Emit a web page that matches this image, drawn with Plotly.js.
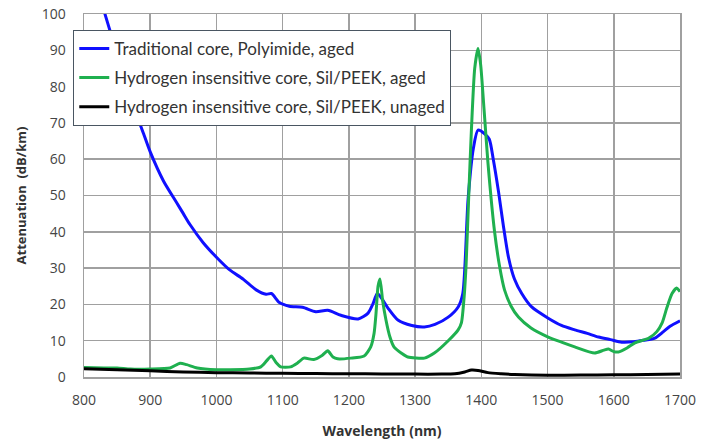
<!DOCTYPE html>
<html>
<head>
<meta charset="utf-8">
<script src="https://cdn.plot.ly/plotly-3.0.1.min.js"></script>
<style>html,body{margin:0;padding:0;background:#fff;}#chart{width:711px;height:443px;}</style>
</head>
<body>
<div id="chart"></div>
<script>
// Traditional core, Polyimide, aged
var blueX = [820,830,840,860,880,890,900,920,940,950,960,980,1000,1020,1040,1060,1075,1083,1095,1110,1130,1150,1168,1188,1214,1229,1236,1243,1250,1259,1274,1295,1314,1330,1350,1365,1372,1380,1388,1395,1405,1412,1418,1426,1433,1441,1450,1461,1476,1501,1521,1541,1560,1577,1595,1612,1630,1645,1662,1675,1685,1700];
var blueY = [107,101,95,84,72,67,62,54,48,45,42,37,33,29.5,27,24,22.8,23,20.5,19.5,19.2,18,18.4,17,16,17.6,20,23,21.5,19,15.7,14.2,13.8,14.5,16.5,19.3,23,49,63,68,67,65.5,60,51,42,33,27,23,19.3,16.2,14.2,13,12,11,10.3,9.6,9.7,10.1,10.7,12.5,14,15.5];
// Hydrogen insensitive core, Sil/PEEK, aged
var greenX = [800,830,850,870,900,930,945,955,971,1000,1021,1050,1067,1076,1083,1090,1097,1112,1122,1132,1147,1160,1168,1176,1183,1203,1223,1233,1238,1241,1244,1247,1251,1256,1262,1268,1280,1289,1314,1329,1350,1365,1370,1374,1377,1381,1385,1390,1395,1399,1404,1410,1420,1428,1435,1445,1456,1475,1501,1521,1541,1571,1585,1592,1600,1607,1620,1632,1653,1665,1673,1680,1688,1695,1700];
var greenY = [2.6,2.5,2.5,2.2,2.2,2.5,3.8,3.4,2.5,2.0,2.0,2.2,2.8,4.5,5.8,4.0,2.8,2.8,3.8,5.2,4.8,6.0,7.2,5.5,5.0,5.2,5.8,8.3,12,17.6,25,27,21,15.7,11,8.3,6.5,5.5,5.2,6.6,10,13,15,22,31,50,68,85,90.5,86,74,59,40,30,24,19.5,16.5,13.5,11,9.6,8.3,6.6,7.4,7.7,7.0,6.9,8.0,9.4,10.7,12.5,14.9,19,23,24.5,23.5];
// Hydrogen insensitive core, Sil/PEEK, unaged
var blackX = [800,850,900,950,1000,1050,1100,1150,1200,1250,1300,1340,1360,1375,1385,1395,1410,1430,1450,1500,1550,1600,1650,1700];
var blackY = [2.3,2.0,1.7,1.4,1.2,1.1,1.0,0.95,0.9,0.85,0.8,0.8,0.9,1.4,1.9,1.8,1.2,0.9,0.7,0.5,0.55,0.6,0.7,0.8];

var names = ["Traditional core, Polyimide, aged","Hydrogen insensitive core, Sil/PEEK, aged","Hydrogen insensitive core, Sil/PEEK, unaged"];
var xTicks = [800,900,1000,1100,1200,1300,1400,1500,1600,1700];
var yTicks = [0,10,20,30,40,50,60,70,80,90,100];

var traces = [
  {x: blueX, y: blueY, name: names[0], legendgroup:'a', mode:'lines', line:{color:'#1010ff', width:3, shape:'spline', smoothing:0.7}},
  {x: greenX, y: greenY, name: names[1], legendgroup:'b', mode:'lines', line:{color:'#1fb04f', width:3, shape:'spline', smoothing:0.6}},
  {x: blackX, y: blackY, name: names[2], legendgroup:'c', mode:'lines', line:{color:'#000000', width:3, shape:'spline', smoothing:0.6}}
];

var layout = {
  width:711, height:443,
  margin:{l:84, r:31, t:14, b:66},
  paper_bgcolor:'#fff', plot_bgcolor:'#fff',
  font:{family:'Open Sans, sans-serif', size:14, color:'#454545'},
  showlegend:true,
  legend:{x:-0.018, y:0.956, xanchor:'left', yanchor:'top', bgcolor:'#fff', bordercolor:'#4a5662', borderwidth:1,
          font:{family:'Lato, sans-serif', size:17, color:'#333'}, traceorder:'grouped', tracegroupgap:4, itemwidth:30},
  xaxis:{range:[800,1700], tickvals:xTicks, ticktext:xTicks.map(String), showgrid:true, gridcolor:'#a0a0a0', gridwidth:1.5,
         showline:true, linecolor:'#a0a0a0', linewidth:1.5, mirror:true, zeroline:false, ticks:'', ticklabelstandoff:10,
         title:{text:'<b>Wavelength (nm)</b>', font:{size:14, color:'#333'}, standoff:18}},
  yaxis:{range:[0,100], tickvals:yTicks, ticktext:yTicks.map(String), showgrid:true, gridcolor:'#a0a0a0', gridwidth:1.5,
         showline:true, linecolor:'#a0a0a0', linewidth:1.5, mirror:true, zeroline:false, ticks:'', ticklabelstandoff:14,
         title:{text:'<b>Attenuation  (dB/km)</b>', font:{size:13, color:'#333'}, standoff:12}}
};
Plotly.newPlot('chart', traces, layout, {displayModeBar:false, staticPlot:true});
</script>
</body>
</html>
